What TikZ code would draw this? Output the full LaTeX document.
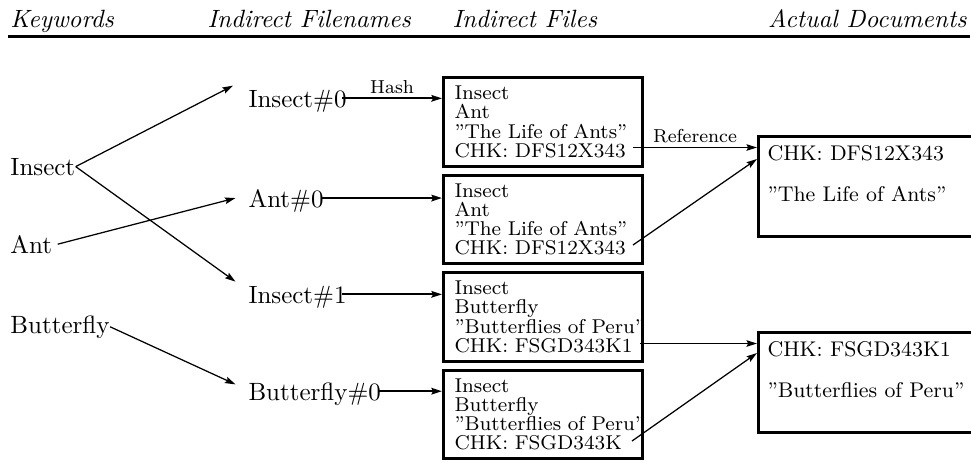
\documentclass[tikz,border=0pt]{standalone}
\usepackage{tikz}
\usetikzlibrary{arrows.meta,positioning}
\tikzset{
  heading/.style = {font=\itshape, inner sep=0pt},
  keyword/.style = {inner sep=0pt, anchor=base west},
  fname/.style = {inner sep=0pt, anchor=base west, text depth=0pt},
  ifile/.style = {rectangle, draw, line width=1.2pt, text width=70.8pt, inner xsep=4.4pt,
    minimum height=35.4pt, align=left, font=\fontsize{8}{7.7}\selectfont},
  adoc/.style = {rectangle, draw, line width=1.2pt, minimum width=100pt, minimum height=40pt},
  doctext/.style = {inner sep=4pt, align=left, font=\fontsize{8.5}{10}\selectfont},
  tag/.style = {font=\fontsize{7.5}{9}\selectfont, inner sep=1.5pt},
  arrow/.style = {line width=0.5pt, -{Stealth[length=4.2pt,width=2.6pt,inset=0.6pt]}},
  harrow/.style = {line width=0.8pt, -{Stealth[length=4.2pt,width=2.6pt,inset=0.6pt]}}
}
\begin{document}
\begin{tikzpicture}[x=0.4pt, y=-0.4pt]
\useasboundingbox (0,0) rectangle (971,461);

% column headings
\node[heading, anchor=base west] (hkey) at (10,27) {Keywords};
\node[heading, anchor=base west] (hname) at (207,27) {Indirect Filenames};
\node[heading, anchor=base west] (hfile) at (452,27) {Indirect Files};
\node[heading, anchor=base east] (hdoc) at (967,27) {Actual Documents};
\draw[line width=1.2pt] (8,36.5) -- (970,36.5);

% keywords
\node[keyword] (kwins) at (10,175) {Insect};
\node[keyword] (kwant) at (10,253) {Ant};
\node[keyword] (kwbfly) at (10,333) {Butterfly};

% indirect filenames
\node[fname] (ins0) at (248,107) {Insect\#0};
\node[fname] (ant0) at (248,207) {Ant\#0};
\node[fname] (ins1) at (248,303) {Insect\#1};
\node[fname] (bfly0) at (248,400) {Butterfly\#0};

% indirect files
\node[ifile, anchor=north west] (boxA) at (442,76)
  {Insect\\Ant\\”The~Life~of~Ants”\\CHK:~DFS12X343};
\node[ifile, below=2.4pt of boxA] (boxB)
  {Insect\\Ant\\”The~Life~of~Ants”\\CHK:~DFS12X343};
\node[ifile, below=2.4pt of boxB] (boxC)
  {Insect\\Butterfly\\”Butterflies~of~Peru”\\CHK:~FSGD343K1};
\node[ifile, below=2.4pt of boxC] (boxD)
  {Insect\\Butterfly\\”Butterflies~of~Peru”\\CHK:~FSGD343K};

% actual documents
\node[adoc, anchor=north west] (doc1) at (757,135) {};
\node[adoc, below=37.2pt of doc1] (doc2) {};
\node[doctext, anchor=north west] (doc1t) at (doc1.north west)
  {CHK: DFS12X343\\[6.4pt]”The Life of Ants”};
\node[doctext, anchor=north west] (doc2t) at (doc2.north west)
  {CHK: FSGD343K1\\[6.4pt]”Butterflies of Peru”};

% keyword -> filename
\draw[arrow] (kwins.east) -- ([xshift=-6pt,yshift=1.4pt]ins0.north west);
\draw[arrow] (kwins.east) -- ([xshift=-5pt,yshift=1.4pt]ins1.north west);
\draw[arrow] ([xshift=2pt]kwant.east) -- ([xshift=-5pt]ant0.west);
\draw[arrow] (kwbfly.east) -- ([xshift=-5pt,yshift=-1pt]bfly0.north west);

% filename -> indirect file
\draw[harrow] ([xshift=-2pt]ins0.east) -- (ins0.east -| boxA.west)
  node[tag, midway, above] (hash) {Hash};
\draw[harrow] ([xshift=-1pt]ant0.east) -- (ant0.east -| boxB.west);
\draw[harrow] ([xshift=-2pt]ins1.east) -- (ins1.east -| boxC.west);
\draw[harrow] ([xshift=-1pt]bfly0.east) -- (bfly0.east -| boxD.west);

% indirect file -> document
\coordinate (refA) at ([xshift=-4.4pt,yshift=8pt]boxA.south east);
\coordinate (refC) at ([xshift=-1.6pt,yshift=7.6pt]boxC.south east);
\draw[arrow] (refA) -- (refA -| doc1.west) node[tag, midway, above] (refer) {Reference};
\draw[arrow] ([xshift=-4.4pt,yshift=8pt]boxB.south east) -- ([yshift=-9.6pt]doc1.north west);
\draw[arrow] (refC) -- (refC -| doc2.west);
\draw[arrow] ([xshift=-4.8pt,yshift=7.6pt]boxD.south east) -- ([yshift=-8.8pt]doc2.north west);
\end{tikzpicture}
\end{document}
